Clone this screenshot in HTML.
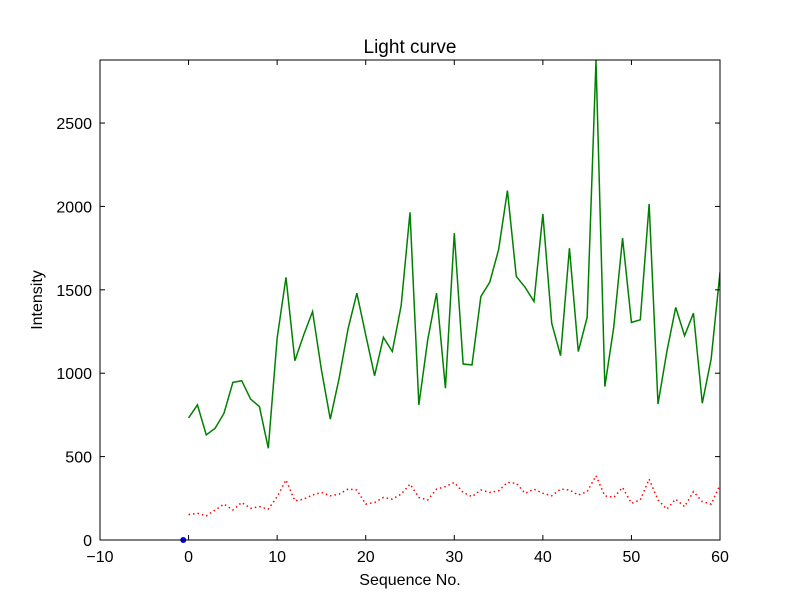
<!DOCTYPE html>
<html><head><meta charset="utf-8"><style>body{margin:0;background:#fff}svg text{font-family:"Liberation Sans","DejaVu Sans",sans-serif}</style></head>
<body>
<svg id="chart" width="800" height="600" xmlns="http://www.w3.org/2000/svg">
<rect width="800" height="600" fill="#fff"/>
<g id="plot"></g>
<text x="410" y="53" font-size="19" text-anchor="middle">Light curve</text>
<text x="410" y="585" font-size="16" text-anchor="middle">Sequence No.</text>
<text x="42" y="300" font-size="16" text-anchor="middle" transform="rotate(-90 42 300)">Intensity</text>
</svg>
<script>
const greenValues=[732,810,630,670,760,945,955,845,800,550,1210,1575,1075,1230,1370,1020,725,970,1265,1480,1230,985,1215,1130,1405,1965,810,1200,1480,910,1840,1055,1050,1460,1545,1740,2095,1580,1515,1430,1955,1300,1105,1750,1130,1335,2875,920,1275,1810,1305,1320,2015,815,1130,1395,1225,1360,820,1085,1605];
const redValues=[152,160,145,180,215,180,225,190,200,185,260,360,235,245,270,285,265,275,305,300,215,225,255,245,275,335,255,240,305,320,345,285,260,300,285,295,345,340,280,305,280,265,305,300,270,290,385,265,255,315,220,240,365,240,185,245,200,290,230,215,330];
const blueX=[-0.6];
const blueY=[0];
const xTicks=[-10,0,10,20,30,40,50,60];
const yTicks=[0,500,1000,1500,2000,2500];
const X0=100,X1=720,Y0=540,Y1=60,xmin=-10,xmax=60,ymin=0,ymax=2878;
const sx=v=>X0+(v-xmin)/(xmax-xmin)*(X1-X0);
const sy=v=>Y0-(v-ymin)/(ymax-ymin)*(Y0-Y1);
const NS="http://www.w3.org/2000/svg";
const g=document.getElementById('plot');
function mk(t,a){const e=document.createElementNS(NS,t);for(const k in a)e.setAttribute(k,a[k]);g.appendChild(e);return e;}
let e=mk('clipPath',{id:'clip'});
const cr=document.createElementNS(NS,'rect');cr.setAttribute('x',X0);cr.setAttribute('y',Y1);cr.setAttribute('width',X1-X0);cr.setAttribute('height',Y0-Y1);e.appendChild(cr);
e=mk('polyline',{points:greenValues.map((v,i)=>sx(i)+','+sy(v)).join(' '),fill:'none',stroke:'#008000','stroke-width':1.5,'clip-path':'url(#clip)'});


e=mk('polyline',{points:redValues.map((v,i)=>sx(i)+','+sy(v)).join(' '),fill:'none',stroke:'#ff0000','stroke-width':1.5,'stroke-dasharray':'1.5 3','clip-path':'url(#clip)'});


blueX.forEach((v,i)=>{const c=mk('circle',{cx:sx(v),cy:sy(blueY[i]),r:3,fill:'#0000ff'});

});
xTicks.forEach(t=>{const x=sx(t);
mk('line',{x1:x,x2:x,y1:Y0,y2:Y0-5,stroke:'#000'});mk('line',{x1:x,x2:x,y1:Y1,y2:Y1+5,stroke:'#000'});
const l=mk('text',{x:x,y:Y0+22,'font-size':16,'text-anchor':'middle'});l.textContent=t<0?'\u2212'+(-t):t;

});
yTicks.forEach(t=>{const y=sy(t);
mk('line',{x1:X0,x2:X0+5,y1:y,y2:y,stroke:'#000'});mk('line',{x1:X1,x2:X1-5,y1:y,y2:y,stroke:'#000'});
const l=mk('text',{x:X0-8,y:y+6,'font-size':16,'text-anchor':'end'});l.textContent=t;

});
e=mk('rect',{x:X0,y:Y1,width:X1-X0,height:Y0-Y1,fill:'none',stroke:'#000','stroke-width':1});


</script>
</body></html>
